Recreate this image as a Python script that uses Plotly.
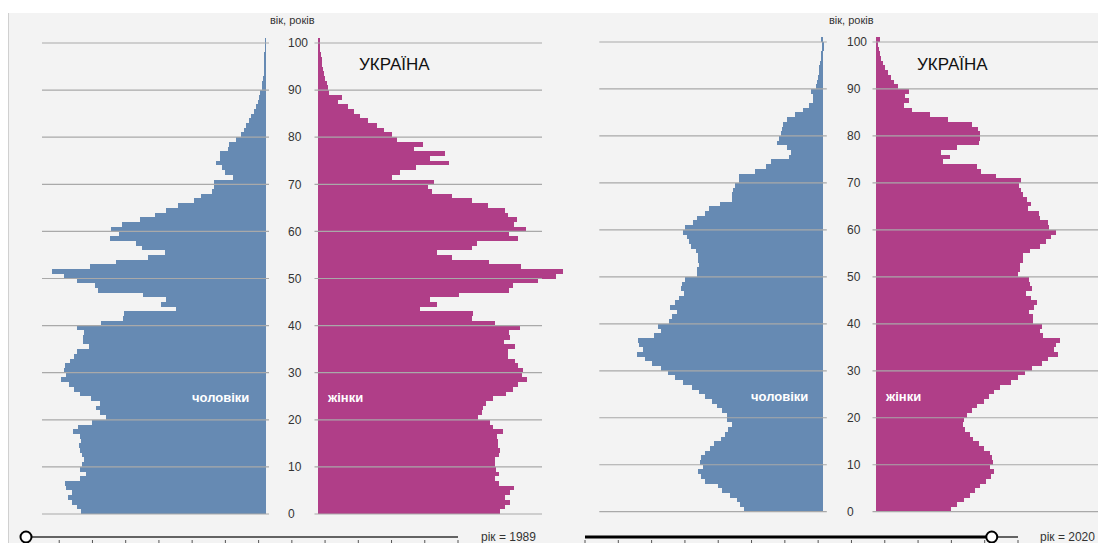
import plotly.graph_objects as go

# ---------------- data (thousand persons, by single year of age) ----------------
AGES = list(range(0, 101))
AGE_TICKS = list(range(0, 101, 10))
YEARS = [1989, 2020]
SLIDER_FIRST, SLIDER_LAST = 1989, 2022

MALE_1989 = [371, 378, 388, 397, 389, 400, 403, 373, 361, 373,
             368, 364, 368, 373, 375, 370, 373, 387, 376, 349,
             321, 333, 341, 333, 351, 373, 384, 395, 411, 401,
             405, 403, 393, 385, 379, 354, 367, 366, 364, 378,
             331, 287, 285, 181, 211, 200, 246, 337, 343, 378,
             405, 428, 352, 301, 237, 202, 248, 260, 313, 295,
             310, 289, 253, 223, 201, 177, 145, 131, 108, 105,
             105, 67, 83, 89, 101, 92, 93, 77, 74, 61,
             51, 45, 40, 34, 30, 25, 21, 17, 15, 12,
             9, 8, 7, 5, 5, 4, 3, 3, 2, 1, 2]
FEMALE_1989 = [363, 373, 383, 373, 383, 391, 361, 353, 361, 355,
               353, 353, 361, 363, 360, 359, 357, 369, 350, 343,
               320, 328, 330, 335, 350, 375, 390, 399, 418, 407,
               410, 400, 393, 380, 380, 393, 372, 383, 381, 403,
               353, 308, 310, 203, 237, 223, 282, 381, 390, 440,
               475, 490, 405, 342, 267, 237, 308, 317, 399, 381,
               415, 392, 397, 380, 373, 339, 308, 267, 228, 220,
               232, 147, 164, 195, 261, 224, 253, 192, 209, 157,
               147, 131, 117, 99, 83, 71, 60, 39, 47, 21,
               20, 17, 14, 12, 10, 8, 7, 5, 4, 3, 3]
MALE_2020 = [159, 167, 172, 187, 203, 211, 237, 245, 251, 241,
             247, 245, 237, 227, 219, 205, 197, 190, 183, 192,
             193, 203, 213, 223, 237, 248, 263, 281, 297, 311,
             325, 343, 357, 373, 360, 368, 371, 338, 325, 330,
             309, 303, 292, 307, 297, 288, 279, 285, 283, 277,
             253, 253, 248, 251, 250, 255, 265, 268, 273, 280,
             277, 260, 253, 236, 229, 207, 183, 183, 181, 177,
             169, 168, 136, 115, 105, 68, 64, 73, 92, 88,
             85, 83, 80, 73, 56, 40, 28, 21, 21, 25,
             15, 12, 11, 9, 8, 7, 5, 4, 3, 3, 4]
FEMALE_2020 = [149, 161, 175, 187, 198, 208, 220, 230, 236, 228,
               233, 231, 228, 215, 205, 193, 187, 178, 173, 176,
               181, 191, 201, 215, 225, 236, 248, 269, 283, 298,
               311, 331, 343, 363, 355, 360, 367, 333, 327, 332,
               313, 313, 305, 316, 321, 309, 300, 311, 308, 305,
               283, 287, 288, 293, 293, 307, 328, 340, 349, 360,
               345, 343, 328, 325, 303, 309, 301, 293, 289, 285,
               290, 239, 209, 201, 133, 147, 130, 161, 205, 207,
               208, 203, 191, 143, 107, 71, 55, 65, 58, 65,
               43, 36, 30, 23, 18, 13, 9, 7, 5, 4, 8]

TITLE = "УКРАЇНА"
Y_TITLE = "вік, років"
LBL_M = "чоловіки"
LBL_F = "жінки"
YEAR_LBL = "рік = {}"

# ---------------- styling / layout geometry (screen pixels) ----------------
SCREEN_W, SCREEN_H = 1106, 543
OX, OY = 8, 8                      # page body margin in front of the figure
W, H = SCREEN_W - OX, SCREEN_H - OY
FONT = "Arial, 'Liberation Sans', sans-serif"
C_M = "#668ab3"
C_F = "#b03e88"
C_GRID = "#a9a9a9"
BG = "#f3f3f3"
UNITS_PER_PX = 2.0          # thousand persons per screen pixel
GRID_LO, GRID_HI = -7, 448  # gridline extent in data units
PLOT_TOP, PLOT_BOT = 13, 526


def fx(x):
    return (x - OX) / W


def fy(y):
    return 1 - (y - OY) / H


PANELS = [
    dict(year=YEARS[0], male=MALE_1989, female=FEMALE_1989,
         m_zero=266, f_zero=318, m_dom=(8, 269), f_dom=(314, 565),
         y0=514, y100=43, tick_x=287, title_x=394, title_y=65, ytitle_x=292,
         lblm_x=251, lblf_x=325, lbl_y=397,
         track=(26, 458), year_x=508),
    dict(year=YEARS[1], male=MALE_2020, female=FEMALE_2020,
         m_zero=823.3, f_zero=876, m_dom=(567, 827), f_dom=(872, 1106),
         y0=511.7, y100=42, tick_x=846, title_x=952, title_y=64, ytitle_x=851,
         lblm_x=810, lblf_x=883, lbl_y=396,
         track=(585, 1018), year_x=1067),
]

fig = go.Figure()
layout = dict(
    width=W, height=H, margin=dict(l=0, r=0, t=0, b=0),
    paper_bgcolor=BG, plot_bgcolor="rgba(0,0,0,0)",
    showlegend=False, bargap=0, barmode="overlay",
    font=dict(family=FONT, color="#333"),
)
shapes = []
annotations = []

# white strip at the very top and a thin left border
shapes.append(dict(type="rect", xref="paper", yref="paper", x0=0, x1=1,
                   y0=fy(OY), y1=fy(13), fillcolor="white", line=dict(width=0), layer="below"))
shapes.append(dict(type="line", xref="paper", yref="paper", x0=fx(8.5), x1=fx(8.5),
                   y0=fy(13), y1=0, line=dict(color="#d0d0d0", width=1), layer="below"))

mid_ages = [a + 0.5 for a in AGES]


def ann(text, x, y, size, color, xanchor="center", bold=False):
    return dict(text=f"<b>{text}</b>" if bold else text, xref="paper", yref="paper",
                x=fx(x), y=fy(y), xanchor=xanchor, yanchor="middle", showarrow=False,
                font=dict(size=size, color=color, family=FONT))


for i, p in enumerate(PANELS):
    xm = "x" if i == 0 else f"x{2 * i + 1}"
    xf = f"x{2 * i + 2}"
    yy = "y" if i == 0 else f"y{i + 1}"
    xm_key = "xaxis" if i == 0 else f"xaxis{2 * i + 1}"
    xf_key = f"xaxis{2 * i + 2}"
    y_key = "yaxis" if i == 0 else f"yaxis{i + 1}"

    fig.add_trace(go.Bar(x=p["male"], y=mid_ages, orientation="h", width=1,
                         marker=dict(color=C_M, line=dict(width=0)),
                         xaxis=xm, yaxis=yy, name=LBL_M, hoverinfo="x+y"))
    fig.add_trace(go.Bar(x=p["female"], y=mid_ages, orientation="h", width=1,
                         marker=dict(color=C_F, line=dict(width=0)),
                         xaxis=xf, yaxis=yy, name=LBL_F, hoverinfo="x+y"))

    m0, f0 = p["m_zero"], p["f_zero"]
    layout[xm_key] = dict(
        domain=[fx(p["m_dom"][0]), fx(p["m_dom"][1])],
        range=[(m0 - p["m_dom"][0]) * UNITS_PER_PX, (m0 - p["m_dom"][1]) * UNITS_PER_PX],
        anchor=yy, visible=False, fixedrange=True)
    layout[xf_key] = dict(
        domain=[fx(p["f_dom"][0]), min(1.0, fx(p["f_dom"][1]))],
        range=[(p["f_dom"][0] - f0) * UNITS_PER_PX, (p["f_dom"][1] - f0) * UNITS_PER_PX],
        anchor=yy, visible=False, fixedrange=True)
    k = (p["y0"] - p["y100"]) / 100.0
    layout[y_key] = dict(
        domain=[fy(PLOT_BOT), fy(PLOT_TOP)],
        range=[(p["y0"] - PLOT_BOT) / k, (p["y0"] - PLOT_TOP) / k],
        anchor=xm, side="right", tickvals=AGE_TICKS, ticks="",
        ticklabelstandoff=p["tick_x"] - p["m_dom"][1],
        showgrid=False, zeroline=False, showline=False,
        tickfont=dict(size=12, color="#333", family=FONT), fixedrange=True)

    # gridlines drawn over the bars
    for a in AGE_TICKS:
        for xr in (xm, xf):
            shapes.append(dict(type="line", xref=xr, yref=yy, x0=GRID_LO, x1=GRID_HI,
                               y0=a, y1=a, line=dict(color=C_GRID, width=1.2), layer="above"))

    annotations.append(ann(Y_TITLE, p["ytitle_x"], 20, 11, "#333"))
    annotations.append(ann(TITLE, p["title_x"], p["title_y"], 17, "#111"))
    annotations.append(ann(LBL_M, p["lblm_x"], p["lbl_y"], 13, "white", "right", True))
    annotations.append(ann(LBL_F, p["lblf_x"], p["lbl_y"], 13, "white", "left", True))
    annotations.append(ann(YEAR_LBL.format(p["year"]), p["year_x"], 537, 12, "#333"))

    # year slider (decorative)
    t0, t1 = p["track"]
    ty = 537
    hx = t0 + (p["year"] - SLIDER_FIRST) / (SLIDER_LAST - SLIDER_FIRST) * (t1 - t0)
    shapes.append(dict(type="line", xref="paper", yref="paper", x0=fx(t0), x1=fx(t1),
                       y0=fy(ty), y1=fy(ty), line=dict(color="#333", width=1.5)))
    if hx > t0:
        shapes.append(dict(type="line", xref="paper", yref="paper", x0=fx(t0), x1=fx(hx),
                           y0=fy(ty), y1=fy(ty), line=dict(color="#000", width=3)))
    n_ticks = 14
    for j in range(n_ticks):
        tx = t0 + j * (t1 - t0) / (n_ticks - 1)
        shapes.append(dict(type="line", xref="paper", yref="paper", x0=fx(tx), x1=fx(tx),
                           y0=fy(540), y1=fy(545), line=dict(color="#555", width=1)))
    shapes.append(dict(type="circle", xref="paper", yref="paper",
                       x0=fx(hx - 5.5), x1=fx(hx + 5.5), y0=fy(ty + 5.5), y1=fy(ty - 5.5),
                       fillcolor="white", line=dict(color="#000", width=2)))

layout["shapes"] = shapes
layout["annotations"] = annotations
fig.update_layout(**layout)
fig.write_html("out.html")
